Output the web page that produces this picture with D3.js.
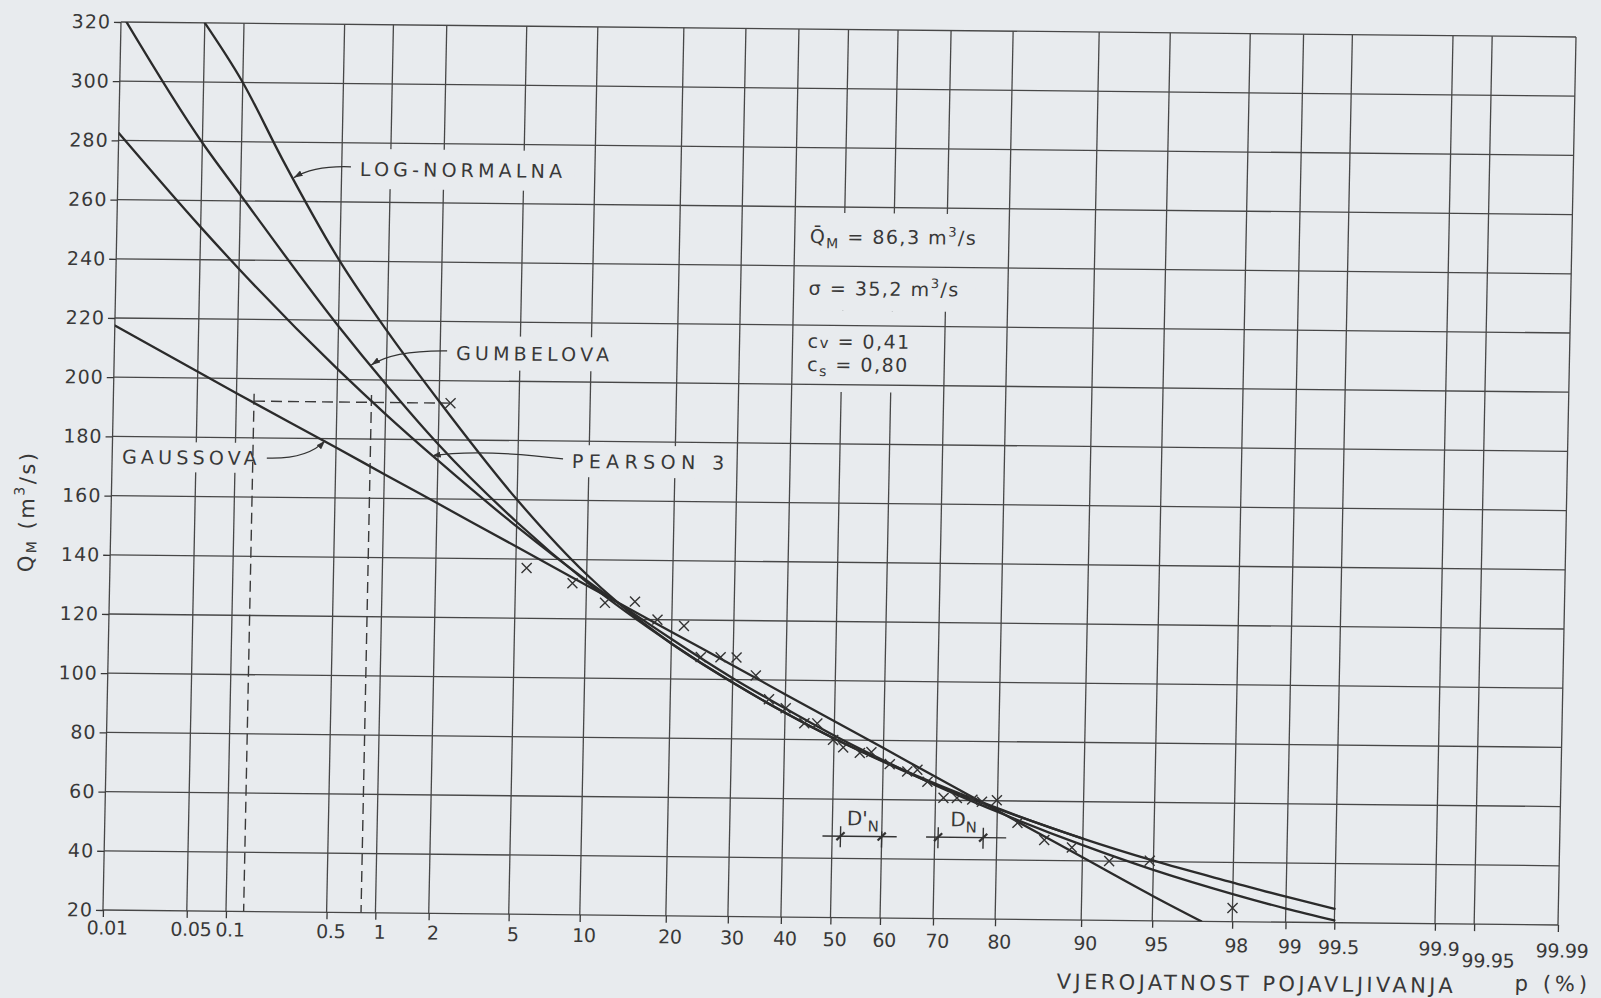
<!DOCTYPE html>
<meta charset="utf-8">
<style>
  body { margin: 0; background: #e8ebee; }
  svg { display: block; }
  .grid line { stroke: #474747; stroke-width: 1.3; }
  .curve { fill: none; stroke: #2b2b2b; stroke-width: 2.3; stroke-linejoin: round; stroke-linecap: round; }
  .ref { fill: none; stroke: #3a3a3a; stroke-width: 1.4; stroke-dasharray: 11,6; }
  .obs { fill: none; stroke: #333; stroke-width: 1.4; }
  .leader { fill: none; stroke: #333; stroke-width: 1.3; }
  text { font-family: "DejaVu Sans", sans-serif; fill: #383838; }
  .clabel { font-size: 19px; letter-spacing: 4.2px; }
  .stat { font-size: 19px; letter-spacing: 1.5px; }
  .title { font-size: 21px; letter-spacing: 2px; }
</style>
<svg width="1601" height="998"></svg>
<script src="https://cdn.jsdelivr.net/npm/d3@7/dist/d3.min.js"></script>
<script>

// probability axis (% of exceedance) and discharge axis
var probTicks = [0.01, 0.05, 0.1, 0.5, 1, 2, 5, 10, 20, 30, 40, 50, 60, 70, 80, 90, 95, 98, 99, 99.5, 99.9, 99.95, 99.99];
var probTickLabels = ["0.01", "0.05", "0.1", "0.5", "1", "2", "5", "10", "20", "30", "40", "50", "60", "70", "80", "90", "95", "98", "99", "99.5", "99.9", "99.95", "99.99"];
var qTicks = [20, 40, 60, 80, 100, 120, 140, 160, 180, 200, 220, 240, 260, 280, 300, 320];

// fitted distributions (p in %, Q in m3/s)
var gaussP = [0.01, 0.1, 0.5, 1, 2, 5, 10, 20, 30, 40, 50, 60, 70, 80, 90, 95, 97.1];
var gaussQ = [217.5, 195, 177, 168.2, 158.6, 144.2, 131.4, 115.9, 104.8, 95.2, 86.3, 77.4, 67.8, 56.7, 41.2, 28.4, 20];

var gumbelP = [0.01, 0.05, 0.1, 0.5, 1, 2, 5, 10, 20, 30, 40, 50, 60, 70, 80, 90, 95, 98, 99, 99.5];
var gumbelQ = [323, 279.5, 262, 218, 198.5, 178.5, 152.5, 132.5, 112, 99, 89, 80.5, 73, 65.5, 57.5, 47.5, 40.3, 33.2, 28.6, 24.7];

var pearsonP = [0.01, 0.05, 0.1, 0.5, 1, 2, 5, 10, 20, 30, 40, 50, 60, 70, 80, 90, 95, 98, 99, 99.5];
var pearsonQ = [282.5, 251, 237, 203.5, 188.5, 173, 151, 133, 113.5, 100.5, 90.5, 81.5, 73.3, 65, 56.3, 45.3, 37.2, 29.3, 24.6, 20.8];

var logNormP = [0.05, 0.1, 0.2, 0.5, 1, 2, 5, 10, 13, 20, 30, 40, 50, 60, 70, 80, 90];
var logNormQ = [320, 300, 274, 240, 216.5, 193, 160, 135, 126, 112, 99, 89, 80.5, 72.8, 65.2, 57.3, 47.5];

// observed annual maxima
var obsP = [2.3, 5.6, 8.8, 11.8, 15.1, 18, 21.8, 24.5, 27.8, 30.6, 34.2, 36.8, 40.1, 43.9, 46.5, 49.8, 51.9, 55.3, 57.6, 61.3, 64.7, 66.6, 68.5, 71.4, 73.7, 76.2, 77.7, 79.9, 82.8, 86.1, 89.0, 92.2, 94.8, 98.0];
var obsQ = [192.4, 137, 132, 125.5, 126, 120, 118, 107.5, 107.5, 107.5, 101.5, 93.5, 90.5, 85.5, 85.5, 80, 77.5, 75.7, 76, 72, 69.6, 70.2, 66.2, 60.8, 60.8, 60.3, 59.6, 60.2, 52.6, 46.9, 44.5, 40, 40.3, 24.6];

// return period read-off for the largest flood
var maxFloodQ = 192.4;
var readOffP = [0.135, 0.82];

// statistics block
var statNames = ["Q\u0304", "\u03c3", "c", "c"];
var statSubs = ["M", "", "v", "s"];
var statValues = ["86,3", "35,2", "0,41", "0,80"];
var statUnits = [true, true, false, false];

// Kolmogorov distances
var dimNames = ["D'", "D"];
var dimFromP = [51.7, 70.6];
var dimToP = [60.0, 78.0];
var dimQ = 47.5;

var curveNames = ["LOG-NORMALNA", "GUMBELOVA", "GAUSSOVA", "PEARSON 3"];

var paper = "#e8ebee", ink = "#383838";
var W = 1455, H = 888;

function probit(p) {
  var a = [-3.969683028665376e+01, 2.209460984245205e+02, -2.759285104469687e+02, 1.383577518672690e+02, -3.066479806614716e+01, 2.506628277459239e+00];
  var b = [-5.447609879822406e+01, 1.615858368580409e+02, -1.556989798598866e+02, 6.680131188771972e+01, -1.328068155288572e+01];
  var c = [-7.784894002430293e-03, -3.223964580411365e-01, -2.400758277161838e+00, -2.549732539343734e+00, 4.374664141464968e+00, 2.938163982698783e+00];
  var d = [7.784695709041462e-03, 3.224671290700398e-01, 2.445134137142996e+00, 3.754408661907416e+00];
  var pl = 0.02425, q, r;
  if (p < pl) {
    q = Math.sqrt(-2 * Math.log(p));
    return (((((c[0]*q+c[1])*q+c[2])*q+c[3])*q+c[4])*q+c[5]) / ((((d[0]*q+d[1])*q+d[2])*q+d[3])*q+1);
  }
  if (p <= 1 - pl) {
    q = p - 0.5; r = q * q;
    return (((((a[0]*r+a[1])*r+a[2])*r+a[3])*r+a[4])*r+a[5])*q / (((((b[0]*r+b[1])*r+b[2])*r+b[3])*r+b[4])*r+1);
  }
  q = Math.sqrt(-2 * Math.log(1 - p));
  return -(((((c[0]*q+c[1])*q+c[2])*q+c[3])*q+c[4])*q+c[5]) / ((((d[0]*q+d[1])*q+d[2])*q+d[3])*q+1);
}

var zScale = d3.scaleLinear().domain([probit(0.0001), probit(0.9999)]).range([0, W]);
function x(p) { return zScale(probit(p / 100)); }
var y = d3.scaleLinear().domain([20, 320]).range([H, 0]);

var svg = d3.select("svg");
svg.append("rect").attr("width", 1601).attr("height", 998).attr("fill", paper);

var defs = svg.append("defs");
defs.append("clipPath").attr("id", "plot").append("rect").attr("width", W).attr("height", H);
defs.append("marker").attr("id", "arrow")
    .attr("markerUnits", "userSpaceOnUse")
    .attr("markerWidth", 10).attr("markerHeight", 6)
    .attr("refX", 9).attr("refY", 3).attr("orient", "auto")
  .append("path").attr("d", "M0,0L9,3L0,6Z").attr("fill", "#333");

// the scanned sheet sits slightly skewed on the page
var g = svg.append("g").attr("transform", "matrix(1,0.0103,-0.0203,1,121,22)");

var gV = g.append("g").attr("class", "grid");
var gMask = g.append("g");
var gH = g.append("g").attr("class", "grid");
var gAxes = g.append("g");
var gCurves = g.append("g").attr("clip-path", "url(#plot)");
var gObs = g.append("g");
var gText = g.append("g");

gV.selectAll("line").data(probTicks).join("line")
    .attr("x1", x).attr("x2", x).attr("y1", 0).attr("y2", H);
gH.selectAll("line").data(qTicks).join("line")
    .attr("x1", 0).attr("x2", W).attr("y1", y).attr("y2", y);

// axes
function styleAxis(a) {
  a.attr("font-family", "DejaVu Sans, sans-serif").attr("font-size", 19).attr("color", ink);
  a.select(".domain").remove();
  a.selectAll(".tick line").attr("stroke-width", 1.3);
}

gAxes.append("g")
    .call(d3.axisLeft(y).tickValues(qTicks).tickFormat(d3.format("d")).tickSize(7).tickPadding(3))
    .call(styleAxis)
    .style("letter-spacing", "1px");

gAxes.append("g")
    .attr("transform", "translate(0," + H + ")")
    .call(d3.axisBottom(zScale).tickValues(probTicks.map(p => probit(p / 100)))
      .tickFormat((d, i) => probTickLabels[i]).tickSize(7).tickPadding(7))
    .call(styleAxis)
    .style("letter-spacing", "-0.3px")
    .call(a => a.selectAll(".tick text")
      .attr("dx", (d, i) => probTickLabels[i] === "99.95" ? 14 : 4)
      .attr("y", (d, i) => 11 + 8 * zScale(d) / W + (probTickLabels[i] === "99.95" ? 11 : 0)));

gText.append("text").attr("class", "title")
    .attr("x", 955).attr("y", H + 69).style("letter-spacing", "3.4px")
    .text("VJEROJATNOST POJAVLJIVANJA");
gText.append("text").attr("class", "title")
    .attr("x", 1413).attr("y", H + 66).style("letter-spacing", "4px")
    .text("p (%)");

var yt = gText.append("text").attr("class", "title")
    .attr("transform", "translate(-84," + (H * 0.552) + ") rotate(-90)")
    .attr("text-anchor", "middle").attr("dominant-baseline", "central")
    .style("letter-spacing", "2.5px");
yt.append("tspan").text("Q");
yt.append("tspan").attr("font-size", 14).attr("dy", 5).text("M");
yt.append("tspan").attr("dy", -5).text(" (m");
yt.append("tspan").attr("font-size", 14).attr("dy", -8).text("3");
yt.append("tspan").attr("dy", 8).text("/s)");

// read-off of the largest flood
gCurves.append("line").attr("class", "ref")
    .attr("x1", x(readOffP[0])).attr("x2", x(obsP[0]))
    .attr("y1", y(maxFloodQ)).attr("y2", y(maxFloodQ));
gCurves.selectAll("line.vref").data(readOffP).join("line")
    .attr("class", "ref vref")
    .attr("x1", x).attr("x2", x)
    .attr("y1", y(maxFloodQ + 2.5)).attr("y2", H);

// distribution curves
var line = d3.line().x(d => x(d[0])).y(d => y(d[1])).curve(d3.curveMonotoneX);
[[logNormP, logNormQ], [gumbelP, gumbelQ], [gaussP, gaussQ], [pearsonP, pearsonQ]].forEach(function(s) {
  gCurves.append("path").attr("class", "curve").attr("d", line(d3.zip(s[0], s[1])));
});

// observations
gObs.selectAll("path").data(d3.zip(obsP, obsQ)).join("path")
    .attr("class", "obs")
    .attr("transform", d => "translate(" + x(d[0]) + "," + y(d[1]) + ")")
    .attr("d", "M-5,-5L5,5M-5,5L5,-5");

// curve labels with leaders
var labelLayout = [
  { p: 0.652, q: 271.2, tipP: 0.24, tipQ: 268, side: "left", bend: 0.36, dy: -1, padX: 8, padY: 9, ls: 4.2 },
  { p: 2.43, q: 209.4, tipP: 0.81, tipQ: 205, side: "left", bend: 0.28, dy: 0, padX: 7, padY: 6, ls: 4.2 },
  { p: 0.0122, q: 173.2, tipP: 0.424, tipQ: 179.3, side: "right", bend: 0.7, dy: 1, padX: 6, padY: 4, ls: 4.2 },
  { p: 8.56, q: 173.3, tipP: 1.85, tipQ: 174.5, side: "left", bend: 0.34, dy: -8, padX: 5, padY: 5, ls: 5.4 }
];
curveNames.forEach(function(name, i) {
  var L = labelLayout[i];
  var tx = x(L.p), ty = y(L.q);
  var t = gText.append("text").attr("class", "clabel").style("letter-spacing", L.ls + "px")
      .attr("x", tx).attr("y", ty).attr("dominant-baseline", "central").text(name);
  var b = t.node().getBBox();
  gMask.append("rect")
      .attr("x", b.x - L.padX).attr("y", b.y - L.padY)
      .attr("width", b.width + 2 * L.padX).attr("height", b.height + 2 * L.padY)
      .attr("fill", paper);
  var tip = [x(L.tipP), y(L.tipQ)];
  var s = L.side === "left" ? [tx - 9, ty - 2] : [b.x + b.width + 6, ty];
  var c;
  if (L.side === "left") c = [tip[0] + L.bend * (s[0] - tip[0]), Math.min(s[1], tip[1]) + L.dy];
  else c = [s[0] + L.bend * (tip[0] - s[0]), s[1] + L.dy];
  gText.append("path").attr("class", "leader")
      .attr("marker-end", "url(#arrow)")
      .attr("d", "M" + s + "Q" + c + " " + tip);
});

// statistics block
var statLayoutQ = [250.1, 232.6, 214.7, 206.9];
var statX = x(43);
statNames.forEach(function(n, i) {
  var t = gText.append("text").attr("class", "stat").attr("x", statX).attr("y", y(statLayoutQ[i]) + 7);
  t.append("tspan").text(n);
  if (statSubs[i] === "v") t.append("tspan").attr("font-size", 15).text("v");
  else if (statSubs[i]) t.append("tspan").attr("font-size", 14).attr("dy", 5).text(statSubs[i]);
  var sub = statSubs[i] && statSubs[i] !== "v";
  t.append("tspan").attr("dy", sub ? -5 : 0).text((i === 1 ? "  =  " : " = ") + statValues[i] + (statUnits[i] ? " m" : ""));
  if (statUnits[i]) {
    t.append("tspan").attr("font-size", 13).attr("dy", -8).text("3");
    t.append("tspan").attr("dy", 8).text("/s");
  }
});
gMask.append("rect").attr("fill", paper)
    .attr("x", x(45)).attr("width", x(75) - x(45))
    .attr("y", y(258)).attr("height", y(225) - y(258));
gMask.append("rect").attr("fill", paper)
    .attr("x", x(45)).attr("width", x(65) - x(45))
    .attr("y", y(225)).attr("height", y(197.5) - y(225));

// D'N and DN spans
var dimExt = [[-18, 15], [-12, 23]], dimTextDx = [6, 12];
dimNames.forEach(function(n, i) {
  var a = x(dimFromP[i]), b = x(dimToP[i]), yy = y(dimQ);
  var gd = gText.append("g").attr("class", "obs");
  gd.append("line").attr("x1", a + dimExt[i][0]).attr("x2", b + dimExt[i][1]).attr("y1", yy).attr("y2", yy);
  [a, b].forEach(function(m, k) {
    var up = (i === 0 && k === 1) ? 5 : 10;
    gd.append("line").attr("x1", m).attr("x2", m).attr("y1", yy - up).attr("y2", yy + 11);
    gd.append("line").attr("x1", m - 4).attr("x2", m + 4).attr("y1", yy + 4).attr("y2", yy - 4).style("stroke-width", 2.2);
  });
  var t = gText.append("text").attr("x", a + dimTextDx[i]).attr("y", yy - 11).attr("font-size", 20);
  t.append("tspan").text(n);
  t.append("tspan").attr("font-size", 15).attr("dy", 6).text("N");
});

</script>
